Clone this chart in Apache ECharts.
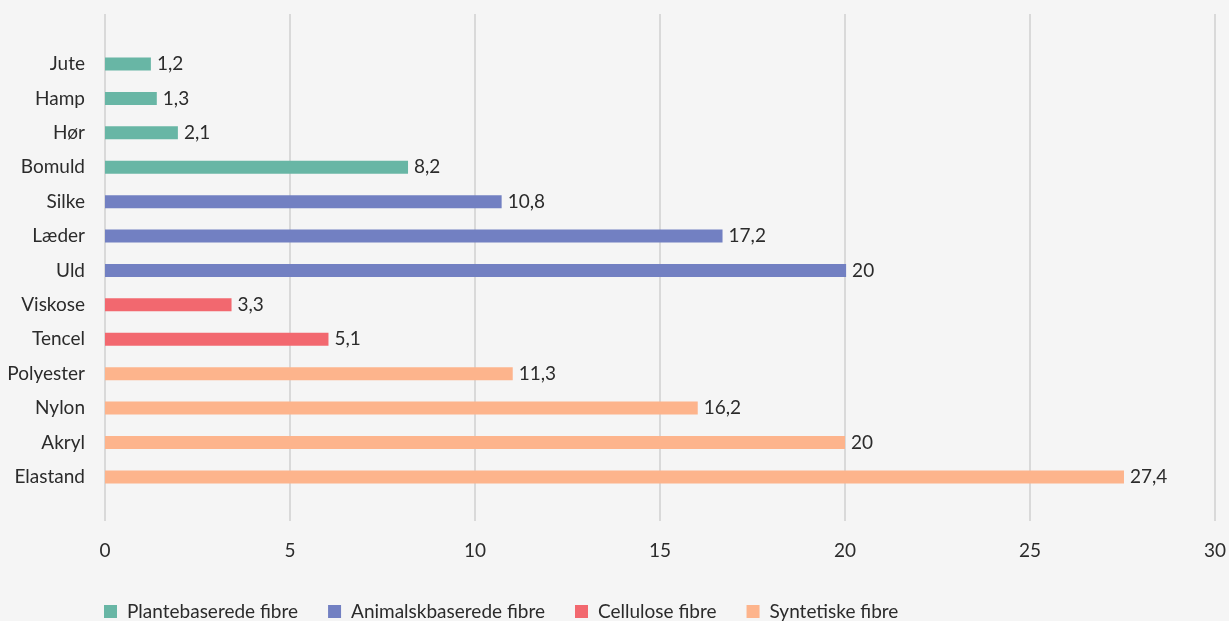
<!DOCTYPE html>
<html>
<head>
<meta charset="utf-8">
<script src="https://cdn.jsdelivr.net/npm/echarts@6/dist/echarts.min.js"></script>
<style>
html,body{margin:0;padding:0;background:#f5f5f5;}
#c{width:1229px;height:621px;}
</style>
</head>
<body>
<div id="c"></div>
<script>
const categories = ['Jute','Hamp','Hør','Bomuld','Silke','Læder','Uld','Viskose','Tencel','Polyester','Nylon','Akryl','Elastand'];
const seriesNames = ['Plantebaserede fibre','Animalskbaserede fibre','Cellulose fibre','Syntetiske fibre'];
const groupOf = [0,0,0,0,1,1,1,2,2,3,3,3,3];
// bar lengths as drawn in the picture
const values = [1.24,1.4,1.97,8.19,10.72,16.69,20.03,3.42,6.04,11.02,16.02,20.0,27.54];
// value labels printed next to the bars
const valueLabels = ['1,2','1,3','2,1','8,2','10,8','17,2','20','3,3','5,1','11,3','16,2','20','27,4'];
const xTicks = [0,5,10,15,20,25,30];
const colors = ['#68b6a5','#7280c2','#f2686f','#fdb48c'];

const FONT = 'Lato';
const FS = 19;
const TXT = '#2b2b2b';
const chart = echarts.init(document.getElementById('c'));
const series = seriesNames.map((name, s) => ({
  name, type: 'bar', stack: 'all', xAxisIndex: 1, yAxisIndex: 1,
  barWidth: 13,
  itemStyle: { color: colors[s] },
  label: {
    show: true, position: 'right', distance: 6,
    color: TXT, fontSize: FS, fontFamily: FONT,
    formatter: p => valueLabels[p.dataIndex]
  },
  data: values.map((v, i) => groupOf[i] === s ? v : '-')
}));

chart.setOption({
  backgroundColor: '#f5f5f5',
  animation: false,
  textStyle: { fontFamily: FONT },
  grid: [
    { left: 105, right: 14, top: 14, bottom: 100 },
    { left: 105, right: 14, top: 46.8, height: 447.3 }
  ],
  legend: {
    left: 99, top: 597, icon: 'rect', itemWidth: 13, itemHeight: 13, itemGap: 30,
    textStyle: { color: TXT, fontSize: FS, fontFamily: FONT, padding: [0, 0, 0, 5] },
    data: seriesNames
  },
  xAxis: [
    { type: 'value', gridIndex: 0, min: xTicks[0], max: xTicks[xTicks.length-1], interval: 5,
      axisLine: { show: false }, axisTick: { show: false },
      splitLine: { lineStyle: { color: '#cfcfcf', width: 1.5 } },
      axisLabel: { margin: 20, color: TXT, fontSize: FS, fontFamily: FONT } },
    { type: 'value', gridIndex: 1, min: 0, max: 30, show: false }
  ],
  yAxis: [
    { type: 'value', gridIndex: 0, show: false },
    { type: 'category', gridIndex: 1, inverse: true, data: categories,
      axisLine: { show: false }, axisTick: { show: false },
      axisLabel: { margin: 20, color: TXT, fontSize: FS, fontFamily: FONT } }
  ],
  series
});
</script>
</body>
</html>
